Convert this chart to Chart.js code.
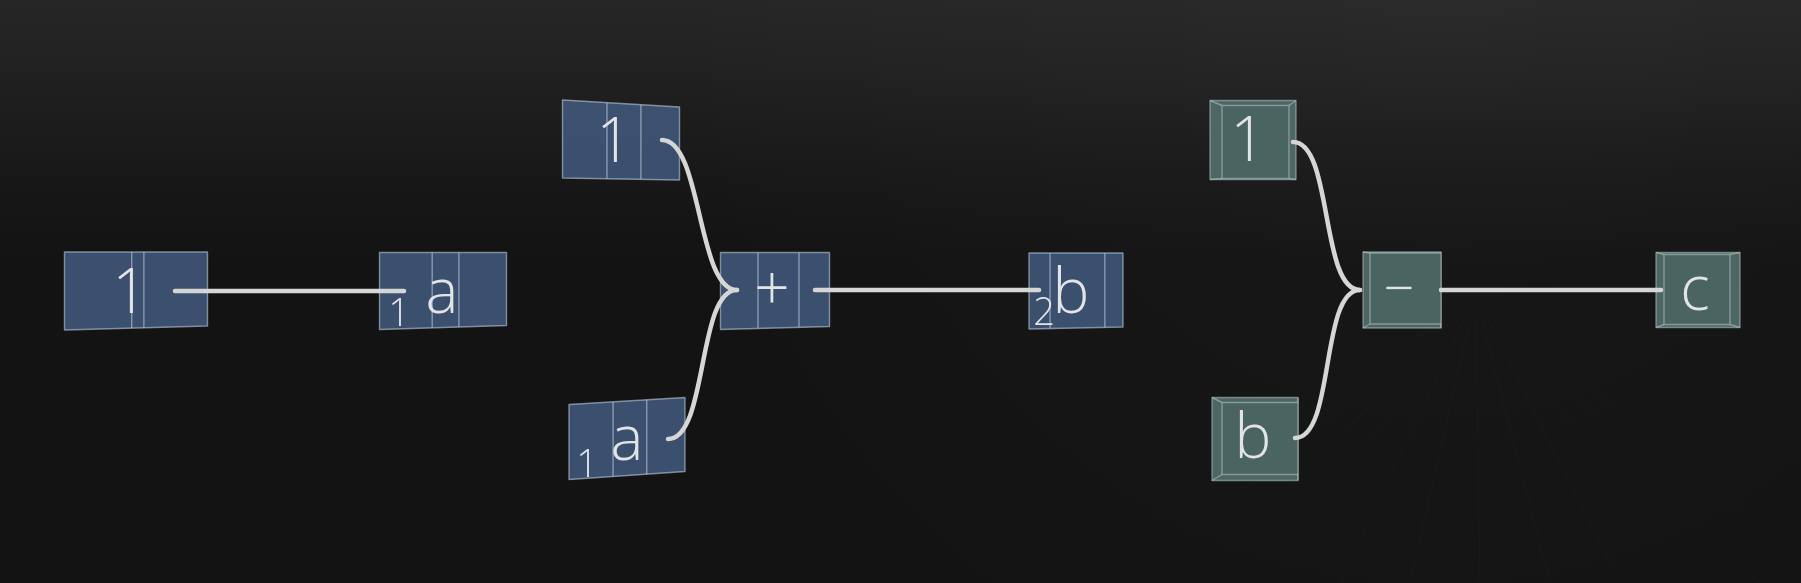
<!DOCTYPE html>
<html>
<head>
<meta charset="utf-8">
<title>Expression graph</title>
<script src="https://cdn.jsdelivr.net/npm/chart.js@4.4.1/dist/chart.umd.min.js"></script>
<style>
  html, body { margin: 0; padding: 0; background: #131313; overflow: hidden; }
  #wrap { position: relative; width: 1801px; height: 583px; }
</style>
</head>
<body>
<div id="wrap"><canvas id="graph"></canvas></div>
<script>
  // Knoten des Ausdrucksgraphen: a = 1, b = 1 + a, c = 1 - b
  const nodeLabels = ['1', 'a', '1', '+', 'b', 'a', '1', '\u2212', 'c', 'b'];
  const nodeSubs = ['', '1', '', '', '2', '1', '', '', '', ''];
  const nodeKind = ['val', 'val', 'val', 'val', 'val', 'val', 'op', 'op', 'op', 'op'];
  // Mittelpunkte in Referenz-Einheiten (x 0..1801, y 0..583)
  const nodeX = [136, 443, 621, 775, 1076, 627, 1253, 1402, 1698, 1255];
  const nodeY = [291, 291, 139, 291, 291, 442, 140, 290, 290, 439];
  // Kanten: [von, nach]
  const edges = [[0, 1], [2, 3], [5, 3], [3, 4], [6, 7], [9, 7], [7, 8]];

  // Darstellung pro Knoten (Größe, Perspektive, Beschriftung, Anschlüsse)
  const BOX = [
    { w: 143, h: 78, tt: 0, tb: -4, inner: [0.47, 0.555], lab: [-6, 22], sub: null, out: [39, 0] },
    { w: 127, h: 77, tt: 0, tb: -4, inner: [0.415, 0.625], lab: [-1, 22], sub: [-44, 35], inn: [-39, 0] },
    { w: 117, h: 78, tt: 7, tb: 2, inner: [0.38, 0.67], lab: [-7, 23], sub: null, out: [41, 1] },
    { w: 109, h: 77, tt: 0, tb: -3, inner: [0.344, 0.72], lab: [-3, 19], sub: null, inn: [-38, -1], out: [40, -1] },
    { w: 94, h: 76, tt: 0, tb: -2, inner: [0.224, 0.807], lab: [-5, 22], sub: [-32, 34], inn: [-37, -1] },
    { w: 116, h: 75, tt: -7, tb: -8, inner: [0.38, 0.67], lab: [0, 18], sub: [-40, 35], out: [41, -3] },
    { w: 86, h: 79, bevel: [12, 5, 7, 1], lab: [-5, 21], sub: null, out: [40, 2] },
    { w: 78, h: 76, bevel: [7, 1, 0, 4], lab: [-3, 17], sub: null, inn: [-42, 0], out: [39, 0] },
    { w: 84, h: 75, bevel: [8, 2, 10, 3], lab: [-3, 20], sub: null, inn: [-37, 0] },
    { w: 86, h: 83, bevel: [10, 5, 0, 6], lab: [-2, 19], sub: null, out: [40, -1] },
  ];

  const TEXT = '#e2e4e6';
  const WIRE = '#d6d6d6';
  const FONT_MAIN = '300 62px "Open Sans", "Noto Sans", sans-serif';
  const FONT_SUB = '300 38px "Open Sans", "Noto Sans", sans-serif';

  const STYLE = {
    val: { fill: 'rgba(62, 85, 118, 0.93)', face: 'rgba(62, 85, 118, 0.93)', edge: 'rgba(185, 197, 214, 0.62)' },
    op: { fill: 'rgba(80, 106, 104, 0.96)', face: 'rgba(74, 100, 98, 0.97)', edge: 'rgba(178, 198, 195, 0.55)' },
  };

  function drawBox(ctx, X, Y, i) {
    const s = BOX[i];
    const st = STYLE[nodeKind[i]];
    const cx = nodeX[i], cy = nodeY[i];
    const x0 = X(cx - s.w / 2), x1 = X(cx + s.w / 2);
    const tl = Y(cy - s.h / 2), tr = Y(cy - s.h / 2 + (s.tt || 0));
    const bl = Y(cy + s.h / 2), br = Y(cy + s.h / 2 + (s.tb || 0));

    ctx.save();
    ctx.lineJoin = 'round';
    ctx.beginPath();
    ctx.moveTo(x0, tl);
    ctx.lineTo(x1, tr);
    ctx.lineTo(x1, br);
    ctx.lineTo(x0, bl);
    ctx.closePath();
    ctx.fillStyle = st.fill;
    ctx.fill();
    ctx.strokeStyle = st.edge;
    ctx.lineWidth = 1.4;
    ctx.stroke();

    // Kanten der durchscheinenden Rückseite
    (s.inner || []).forEach((f) => {
      const x = x0 + f * (x1 - x0);
      ctx.beginPath();
      ctx.moveTo(x, tl + f * (tr - tl));
      ctx.lineTo(x, bl + f * (br - bl));
      ctx.stroke();
    });

    // Operator-Würfel: Vorderseite mit schmalen Seitenflächen
    if (s.bevel) {
      const [l, t, r, b] = s.bevel;
      const fx0 = x0 + l, fx1 = x1 - r, fy0 = tl + t, fy1 = bl - b;
      ctx.fillStyle = st.face;
      ctx.fillRect(fx0, fy0, fx1 - fx0, fy1 - fy0);
      ctx.strokeRect(fx0, fy0, fx1 - fx0, fy1 - fy0);
      ctx.beginPath();
      ctx.moveTo(x0, tl); ctx.lineTo(fx0, fy0);
      ctx.moveTo(x1, tl); ctx.lineTo(fx1, fy0);
      ctx.moveTo(x1, bl); ctx.lineTo(fx1, fy1);
      ctx.moveTo(x0, bl); ctx.lineTo(fx0, fy1);
      ctx.stroke();
    }
    ctx.restore();
  }

  function port(i, key) {
    const p = BOX[i][key];
    return [nodeX[i] + p[0], nodeY[i] + p[1]];
  }

  function drawEdge(ctx, X, Y, from, to) {
    const [ax, ay] = port(from, 'out');
    const [bx, by] = port(to, 'inn');
    const k = Math.abs(by - ay) > 2 ? 40 : (bx - ax) / 3;
    ctx.save();
    ctx.strokeStyle = WIRE;
    ctx.lineWidth = 4.5;
    ctx.lineCap = 'round';
    ctx.beginPath();
    ctx.moveTo(X(ax), Y(ay));
    ctx.bezierCurveTo(X(ax + k), Y(ay), X(bx - k), Y(by), X(bx), Y(by));
    ctx.stroke();
    ctx.restore();
  }

  function drawLabel(ctx, X, Y, i) {
    const s = BOX[i];
    ctx.save();
    ctx.fillStyle = TEXT;
    ctx.textAlign = 'center';
    ctx.textBaseline = 'alphabetic';
    ctx.font = nodeLabels[i] === '\u2212' ? '300 54px "Open Sans", "Noto Sans", sans-serif' : FONT_MAIN;
    ctx.fillText(nodeLabels[i], X(nodeX[i] + s.lab[0]), Y(nodeY[i] + s.lab[1]));
    if (nodeSubs[i] && s.sub) {
      ctx.font = FONT_SUB;
      ctx.fillText(nodeSubs[i], X(nodeX[i] + s.sub[0]), Y(nodeY[i] + s.sub[1]));
    }
    ctx.restore();
  }

  const stagePlugin = {
    id: 'stage',
    beforeDraw(chart) {
      const { ctx, width, height } = chart;
      const g = ctx.createLinearGradient(0, 0, 0, height);
      g.addColorStop(0, '#262626');
      g.addColorStop(0.12, '#212121');
      g.addColorStop(0.3, '#181818');
      g.addColorStop(0.45, '#131313');
      g.addColorStop(1, '#131313');
      ctx.save();
      ctx.fillStyle = g;
      ctx.fillRect(0, 0, width, height);
      // leichte Aufhellung oben rechts
      const r = ctx.createRadialGradient(width * 0.8, 0, 0, width * 0.8, 0, width * 0.45);
      r.addColorStop(0, 'rgba(255,255,255,0.025)');
      r.addColorStop(1, 'rgba(255,255,255,0)');
      ctx.fillStyle = r;
      ctx.fillRect(0, 0, width, height);
      // kaum sichtbare Bodenlinien
      ctx.strokeStyle = 'rgba(255,255,255,0.022)';
      ctx.lineWidth = 1;
      for (let k = 0; k < 12; k++) {
        ctx.beginPath();
        ctx.moveTo(1440 + k * 6, 320);
        ctx.lineTo(1060 + k * 70, height);
        ctx.stroke();
      }
      ctx.restore();
    },
    afterDatasetsDraw(chart) {
      const { ctx } = chart;
      const X = (v) => chart.scales.x.getPixelForValue(v);
      const Y = (v) => chart.scales.y.getPixelForValue(v);
      nodeLabels.forEach((_, i) => drawBox(ctx, X, Y, i));
      edges.forEach(([a, b]) => drawEdge(ctx, X, Y, a, b));
      nodeLabels.forEach((_, i) => drawLabel(ctx, X, Y, i));
    },
  };

  new Chart(document.getElementById('graph'), {
    type: 'scatter',
    data: {
      datasets: [
        {
          data: nodeX.map((x, i) => ({ x, y: nodeY[i] })),
          pointRadius: 0,
          pointHoverRadius: 0,
        },
      ],
    },
    options: {
      responsive: true,
      maintainAspectRatio: false,
      animation: false,
      events: [],
      layout: { padding: 0 },
      plugins: { legend: { display: false }, tooltip: { enabled: false } },
      scales: {
        x: { type: 'linear', min: 0, max: 1801, display: false },
        y: { type: 'linear', min: 0, max: 583, reverse: true, display: false },
      },
    },
    plugins: [stagePlugin],
  });
</script>
</body>
</html>
